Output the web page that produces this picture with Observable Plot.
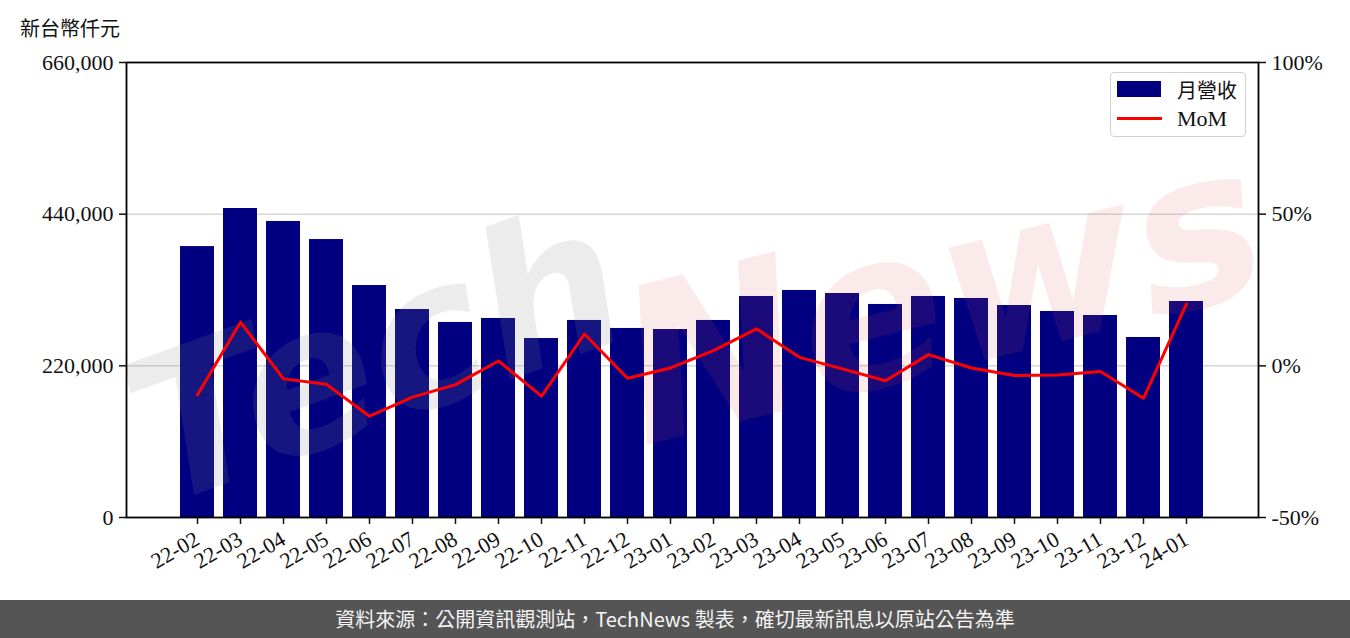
<!DOCTYPE html>
<html>
<head>
<meta charset="utf-8">
<script src="https://cdn.jsdelivr.net/npm/d3@7"></script>
<script src="https://cdn.jsdelivr.net/npm/@observablehq/plot@0.6"></script>
<style>
  html, body { margin: 0; padding: 0; background: #fff; }
  #wrap { position: relative; width: 1350px; height: 600px; }
  #ylab { position: absolute; left: 20px; top: 13px; font: 20px "Noto Sans CJK TC", sans-serif; color: #111; }
  #legend { position: absolute; left: 1110px; top: 72px; width: 134px; height: 63px; border: 1px solid #d0d0d0; border-radius: 4px; background: rgba(255,255,255,0.85); font: 22px "Liberation Serif", serif; color: #111; }
  #legend .sw { position: absolute; left: 6px; top: 8px; width: 44px; height: 16px; background: #000080; }
  #legend .ln { position: absolute; left: 6px; top: 44px; width: 45px; height: 3px; background: #ff0000; }
  #legend .t1 { position: absolute; left: 66px; top: 2px; font-family: "Noto Sans CJK TC", sans-serif; font-size: 20px; }
  #legend .t2 { position: absolute; left: 66px; top: 33px; }
  #footer { width: 1350px; height: 38px; background: #555555; color: #f4f4f4; font: 20px "Noto Sans CJK TC", sans-serif; text-align: center; line-height: 38px; }
</style>
</head>
<body>
<div id="wrap">
  <div id="chart"></div>
  <div id="ylab">新台幣仟元</div>
  <div id="legend"><div class="sw"></div><div class="t1">月營收</div><div class="ln"></div><div class="t2">MoM</div></div>
</div>
<div id="footer">資料來源：公開資訊觀測站，TechNews 製表，確切最新訊息以原站公告為準</div>
<script>
const months = ["22-02","22-03","22-04","22-05","22-06","22-07","22-08","22-09","22-10","22-11","22-12","23-01","23-02","23-03","23-04","23-05","23-06","23-07","23-08","23-09","23-10","23-11","23-12","24-01"];
const revenue = [393000, 448200, 429400, 403200, 336500, 301700, 282900, 288700, 259600, 285800, 274200, 272700, 285800, 320600, 329300, 324900, 309000, 320600, 317700, 307500, 298800, 293000, 261100, 313300];
const mom = [-9.5, 14.4, -4.3, -6.1, -16.6, -10.3, -6.2, 1.6, -10.0, 10.5, -4.1, -0.7, 5.0, 12.2, 2.8, -1.0, -4.9, 3.7, -0.7, -3.2, -3.0, -1.9, -10.7, 20.4];
const leftTicks = [0, 220000, 440000, 660000];
const rightTicks = [-50, 0, 50, 100];

const yMax = 660000, pMin = -50, pMax = 100;
const pctToY = p => (p - pMin) / (pMax - pMin) * yMax;
const yToPct = v => v / yMax * (pMax - pMin) + pMin;

const data = months.map((m, i) => ({month: m, revenue: revenue[i], mom: mom[i], momY: pctToY(mom[i])}));

const chart = Plot.plot({
  width: 1350,
  height: 600,
  marginLeft: 126,
  marginRight: 92,
  marginTop: 62,
  marginBottom: 83,
  style: {fontFamily: "'Liberation Serif', serif", fontSize: "22px", background: "white", color: "#111"},
  x: {type: "band", domain: months, paddingInner: 0.2, paddingOuter: 1.2},
  y: {domain: [0, yMax]},
  marks: [
    Plot.ruleY([220000, 440000], {stroke: "#d6d6d6", strokeWidth: 1.5}),
    Plot.barY(data, {x: "month", y: "revenue", fill: "#000080"}),
    Plot.text(["Tech"], {frameAnchor: "middle", dx: -315, dy: 70, rotate: -20, fontSize: 200, fontWeight: "bold", fontStyle: "italic", fontFamily: "DejaVu Sans", fill: "#888888", fillOpacity: 0.16}),
    Plot.text(["News"], {frameAnchor: "middle", dx: 250, dy: 10, rotate: -14, fontSize: 215, fontWeight: "bold", fontStyle: "italic", fontFamily: "DejaVu Sans", fill: "#e05050", fillOpacity: 0.12}),
    Plot.line(data, {x: "month", y: "momY", stroke: "#ff0000", strokeWidth: 3}),
    Plot.axisY({anchor: "left", ticks: leftTicks, tickFormat: d3.format(","), tickSize: 7, tickPadding: 6, fontSize: 22, label: null, strokeWidth: 1.5}),
    Plot.axisY({anchor: "right", ticks: rightTicks.map(pctToY), tickFormat: v => `${Math.round(yToPct(v))}%`, tickSize: 7, tickPadding: 6, fontSize: 22, label: null, strokeWidth: 1.5}),
    Plot.axisX({anchor: "bottom", tickRotate: -30, tickSize: 7, tickPadding: 13, fontSize: 22, label: null, strokeWidth: 1.5}),
    Plot.frame({stroke: "#000", strokeWidth: 1.8})
  ]
});
document.getElementById("chart").appendChild(chart);
</script>
</body>
</html>
